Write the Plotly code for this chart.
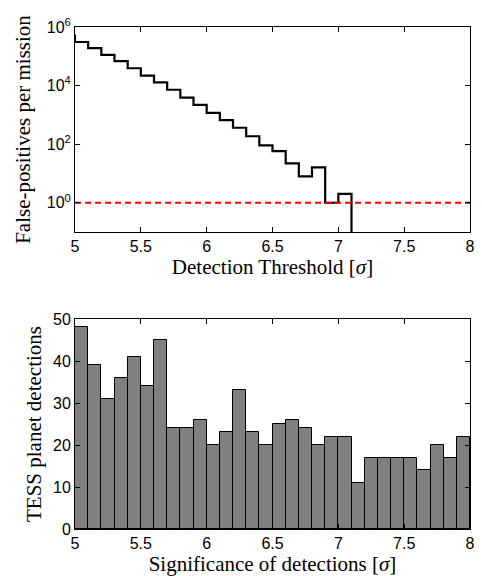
import plotly.graph_objects as go

# ---- data: false-positive rate per threshold bin (top panel) ----
fp_bin_left = [4.9, 5.0, 5.1, 5.2, 5.3, 5.4, 5.5, 5.6, 5.7, 5.8, 5.9, 6.0, 6.1,
               6.2, 6.3, 6.4, 6.5, 6.6, 6.7, 6.8, 6.9, 7.0, 7.1]
fp_counts = [5.1e5, 3.07e5, 1.9e5, 1.12e5, 6.8e4, 3.9e4, 2.2e4, 1.29e4, 7.2e3,
             3.9e3, 2.2e3, 1.17e3, 660, 363, 186, 91, 58, 22, 8, 16, 1, 2, 0]
fp_threshold = 1

# ---- data: TESS detections histogram (bottom panel) ----
det_bin_left = [5.0, 5.1, 5.2, 5.3, 5.4, 5.5, 5.6, 5.7, 5.8, 5.9,
                6.0, 6.1, 6.2, 6.3, 6.4, 6.5, 6.6, 6.7, 6.8, 6.9,
                7.0, 7.1, 7.2, 7.3, 7.4, 7.5, 7.6, 7.7, 7.8, 7.9]
det_counts = [48, 39, 31, 36, 41, 34, 45, 24, 24, 26,
              20, 23, 33, 23, 20, 25, 26, 24, 20, 22,
              22, 11, 17, 17, 17, 17, 14, 20, 17, 22]
bin_width = 0.1

x_ticks = [5, 5.5, 6, 6.5, 7, 7.5, 8]
x_tick_text = ["5", "5.5", "6", "6.5", "7", "7.5", "8"]
fp_y_ticks = [1, 1e2, 1e4, 1e6]
fp_y_tick_text = ["10<sup>0</sup>", "10<sup>2</sup>", "10<sup>4</sup>", "10<sup>6</sup>"]
det_y_ticks = [0, 10, 20, 30, 40, 50]

SERIF = "Liberation Serif"
SANS = "Liberation Sans"

fp_plot = [c if c > 0 else 1e-3 for c in fp_counts]  # zero -> below axis floor

fig = go.Figure()

fig.add_trace(go.Scatter(
    x=fp_bin_left, y=fp_plot, mode="lines", line_shape="hv",
    line=dict(color="black", width=2.2), xaxis="x", yaxis="y", showlegend=False))

fig.add_trace(go.Scatter(
    x=[x_ticks[0], x_ticks[-1]], y=[fp_threshold, fp_threshold], mode="lines",
    line=dict(color="#ff0000", width=2, dash="6px,4px"),
    xaxis="x", yaxis="y", showlegend=False))

fig.add_trace(go.Bar(
    x=[b + bin_width / 2 for b in det_bin_left], y=det_counts, width=bin_width,
    marker=dict(color="#808080", line=dict(color="black", width=1)),
    xaxis="x2", yaxis="y2", showlegend=False))

axis_common = dict(
    showline=True, linecolor="black", linewidth=1, mirror="ticks",
    ticks="inside", ticklen=5, tickcolor="black", tickwidth=1,
    showgrid=False, zeroline=False,
    tickfont=dict(family=SANS, size=16, color="black"),
)
title_font = dict(family=SERIF, size=21, color="black")

fig.update_layout(
    width=482, height=576,
    margin=dict(l=75, r=7, t=27, b=47),
    paper_bgcolor="white", plot_bgcolor="white",
    bargap=0,
    xaxis=dict(domain=[0, 1], range=[5, 8], anchor="y",
               tickvals=x_ticks, ticktext=x_tick_text,
               title=dict(text="Detection Threshold [<i>σ</i>]", font=title_font, standoff=1),
               **axis_common),
    yaxis=dict(domain=[0.5916, 1.0], type="log", range=[-1, 6], anchor="x",
               tickvals=fp_y_ticks, ticktext=fp_y_tick_text,
               title=dict(text="False-positives per mission", font=title_font, standoff=10),
               **axis_common),
    xaxis2=dict(domain=[0, 1], range=[5, 8], anchor="y2",
                tickvals=x_ticks, ticktext=x_tick_text,
                title=dict(text="Significance of detections [<i>σ</i>]", font=title_font, standoff=0),
                **axis_common),
    yaxis2=dict(domain=[0, 0.4183], range=[0, 50], anchor="x2",
                tickvals=det_y_ticks,
                title=dict(text="TESS planet detections", font=title_font, standoff=5),
                **axis_common),
)

fig.write_html("out.html")
